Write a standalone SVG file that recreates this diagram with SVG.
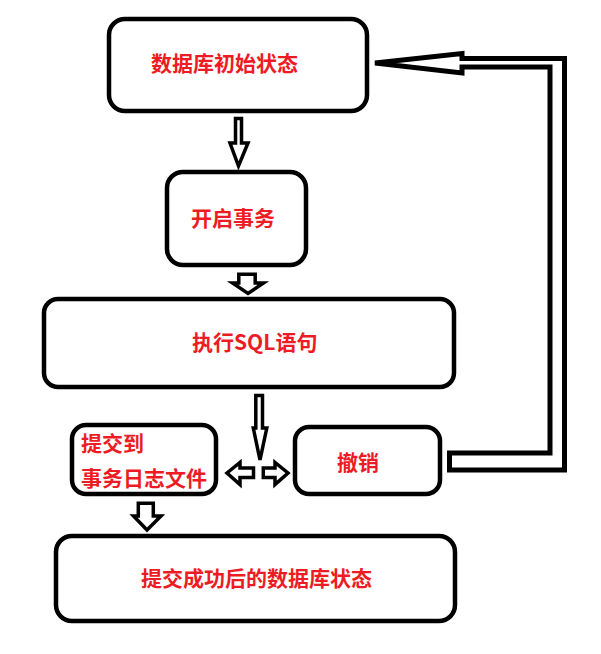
<svg xmlns="http://www.w3.org/2000/svg" width="601" height="654" viewBox="0 0 601 654">
<style>
.box{fill:#fff;stroke:#000;stroke-width:4.5}
.arr{fill:#fff;stroke:#000;stroke-width:3.5;stroke-linejoin:miter}
.ret{fill:#fff;stroke:#000;stroke-width:5;stroke-linejoin:miter}
.t{font-family:"Microsoft YaHei","Noto Sans CJK SC",sans-serif;font-weight:bold;font-size:21px;fill:#ed1c24}
</style>
<rect width="601" height="654" fill="#fff"/>
<g id="connectors">
<polygon class="ret" points="449.5,453 550,453 550,67 462,67 462,73 375,63 462,53.5 462,58.5 564.5,58.5 564.5,470 449.5,470"/>
<polygon class="arr" points="235.5,118.5 241.5,118.5 241.5,143 248,143 238.5,166 230,143 235.5,143"/>
<polygon class="arr" points="238.8,274.2 255.2,274.2 255.2,283 263.5,283 248,293.5 232.5,283 238.8,283"/>
<polygon class="arr" points="255.8,395.5 262.5,395.5 262.5,428 266.8,428 260,460 253.3,428 255.8,428"/>
<polygon class="arr" points="253.5,468 240,468 240,462.5 227,473 240,484.5 240,477.5 253.5,477.5"/>
<polygon class="arr" points="263.3,468 275,468 275,462.5 288,473 275,484.5 275,477.5 263.3,477.5"/>
<polygon class="arr" points="138.3,503.3 153.3,503.3 153.3,516 161,516 147,530 133.5,516 138.3,516"/>
</g>
<g id="n1"><rect class="box" x="109" y="19" width="258" height="92" rx="16"/><text class="t" x="151" y="71">数据库初始状态</text></g>
<g id="n2"><rect class="box" x="167" y="172" width="139" height="93" rx="16"/><text class="t" x="191" y="226">开启事务</text></g>
<g id="n3"><rect class="box" x="44" y="299" width="410" height="88" rx="14"/><text class="t" x="192" y="350">执行SQL语句</text></g>
<g id="n4"><rect class="box" x="72" y="425" width="144" height="69" rx="14"/><text class="t" x="81" y="451">提交到</text><text class="t" x="81" y="486">事务日志文件</text></g>
<g id="n5"><rect class="box" x="295" y="427" width="145" height="67" rx="14"/><text class="t" x="337" y="470">撤销</text></g>
<g id="n6"><rect class="box" x="56" y="536" width="399" height="85" rx="16"/><text class="t" x="141" y="586">提交成功后的数据库状态</text></g>
</svg>
